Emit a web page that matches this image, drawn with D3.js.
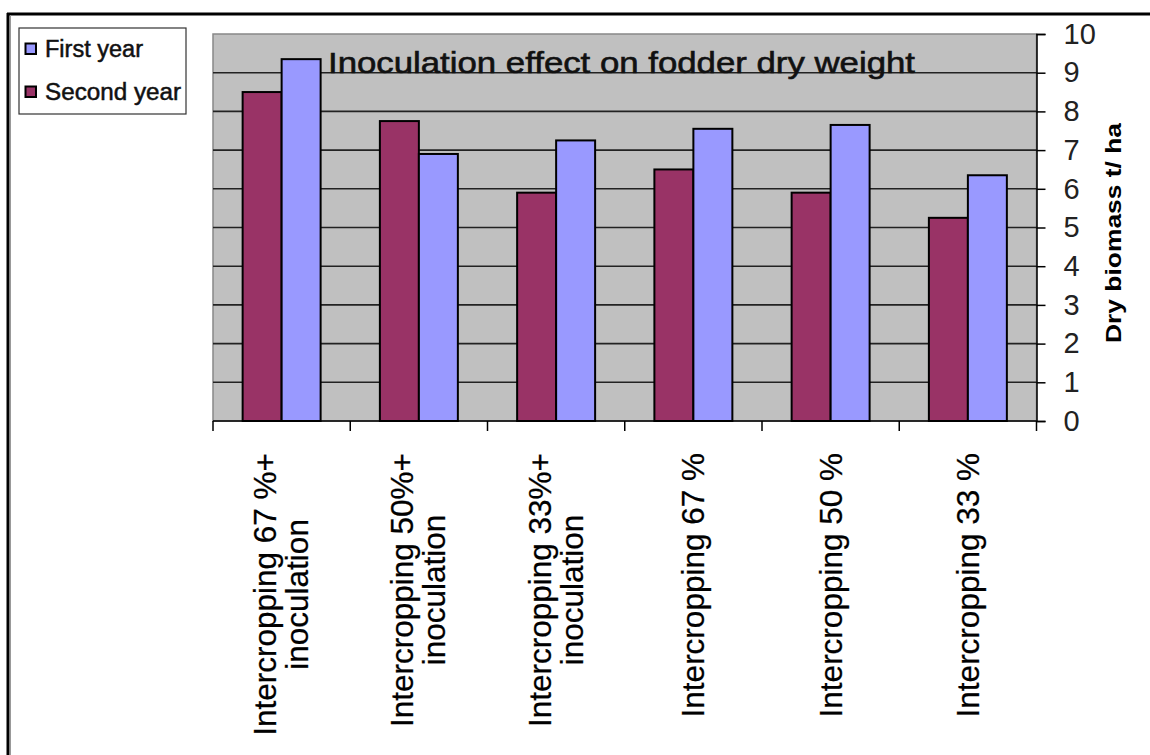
<!DOCTYPE html>
<html>
<head>
<meta charset="utf-8">
<script src="https://cdn.jsdelivr.net/npm/d3@7"></script>
<style>
  body { margin: 0; background: #fff; }
  svg { display: block; font-family: "Liberation Sans", Arial, sans-serif; }
</style>
</head>
<body>
<svg id="chart"></svg>
<script>
const categories = [
  ["Intercropping 67 %+", "inoculation"],
  ["Intercropping 50%+", "inoculation"],
  ["Intercropping 33%+", "inoculation"],
  ["Intercropping 67 %"],
  ["Intercropping 50 %"],
  ["Intercropping 33 %"],
];
const seriesNames = ["Second year", "First year"];
const secondYear = [8.5, 7.75, 5.9, 6.5, 5.9, 5.25];
const firstYear = [9.35, 6.9, 7.25, 7.55, 7.65, 6.35];
const yTicks = [0, 1, 2, 3, 4, 5, 6, 7, 8, 9, 10];

const width = 1150;
const height = 755;
const colors = { "First year": "#9999ff", "Second year": "#993366" };

const svg = d3.select("#chart").attr("width", width).attr("height", height);

// outer frame (top and left only, like the cropped original)
svg.append("line").attr("x1", 7).attr("x2", width).attr("y1", 14).attr("y2", 14)
  .attr("stroke", "#000").attr("stroke-width", 3);
svg.append("line").attr("x1", 8).attr("x2", 8).attr("y1", 13).attr("y2", height)
  .attr("stroke", "#000").attr("stroke-width", 3);
svg.append("line").attr("x1", 10.5).attr("x2", 10.5).attr("y1", 15).attr("y2", height)
  .attr("stroke", "#999").attr("stroke-width", 1);

const plot = { left: 213, right: 1036.5, top: 34, bottom: 421 };

const x0 = d3.scaleBand()
  .domain(d3.range(categories.length))
  .range([plot.left, plot.right]);
const x1 = d3.scaleBand()
  .domain(seriesNames)
  .range([0, x0.bandwidth()])
  .paddingOuter(0.76);
const y = d3.scaleLinear().domain([0, 10]).range([plot.bottom, plot.top]);

// plot background
svg.append("rect")
  .attr("x", plot.left).attr("y", plot.top)
  .attr("width", plot.right - plot.left).attr("height", plot.bottom - plot.top)
  .attr("fill", "#c0c0c0")
  .attr("stroke", "#888").attr("stroke-width", 1.5);

// gridlines
svg.append("g")
  .selectAll("line")
  .data(yTicks.filter((t) => t > 0 && t < 10))
  .join("line")
  .attr("x1", plot.left).attr("x2", plot.right)
  .attr("y1", (d) => y(d)).attr("y2", (d) => y(d))
  .attr("stroke", "#222").attr("stroke-width", 1.6);

// bars
const rows = categories.map((c, i) => ({
  i,
  values: [
    { key: "Second year", value: secondYear[i] },
    { key: "First year", value: firstYear[i] },
  ],
}));

svg.append("g")
  .selectAll("g")
  .data(rows)
  .join("g")
  .attr("transform", (d) => `translate(${x0(d.i)},0)`)
  .selectAll("rect")
  .data((d) => d.values)
  .join("rect")
  .attr("x", (d) => x1(d.key))
  .attr("y", (d) => y(d.value))
  .attr("width", x1.bandwidth())
  .attr("height", (d) => y(0) - y(d.value))
  .attr("fill", (d) => colors[d.key])
  .attr("stroke", "#000")
  .attr("stroke-width", 2);

// x axis line and ticks
const xAxis = svg.append("g");
xAxis.append("line")
  .attr("x1", plot.left).attr("x2", plot.right)
  .attr("y1", plot.bottom).attr("y2", plot.bottom)
  .attr("stroke", "#000").attr("stroke-width", 1.5);
xAxis.selectAll("line.tick")
  .data(d3.range(categories.length + 1))
  .join("line")
  .attr("class", "tick")
  .attr("x1", (d) => plot.left + d * x0.step())
  .attr("x2", (d) => plot.left + d * x0.step())
  .attr("y1", plot.bottom).attr("y2", plot.bottom + 10)
  .attr("stroke", "#000").attr("stroke-width", 1.5);

// x labels, rotated, block anchored at top near the axis
const labelTop = 453;
const labelFont = 31.5;
categories.forEach((lines, i) => {
  const cx = x0(i) + x0.bandwidth() / 2;
  const g = svg.append("g");
  const texts = lines.map((t) =>
    g.append("text")
      .attr("font-size", labelFont)
      .attr("fill", "#000")
      .attr("stroke", "#000")
      .attr("stroke-width", 0.25)
      .attr("text-anchor", "middle")
      .text(t)
  );
  const maxLen = d3.max(texts, (t) => t.node().getComputedTextLength());
  const cy = labelTop + maxLen / 2;
  const n = lines.length;
  texts.forEach((t, j) => {
    const bx = n === 1 ? cx + 11 : cx - 5.5 + j * 32;
    t.attr("transform", `translate(${bx},${cy}) rotate(-90)`);
  });
});

// y axis on the right
const yAxis = svg.append("g")
  .attr("transform", `translate(${plot.right},0)`)
  .call(d3.axisRight(y).tickValues(yTicks).tickSize(9).tickPadding(18));
yAxis.select(".domain").attr("stroke", "#000").attr("stroke-width", 1.5);
yAxis.selectAll(".tick line").attr("stroke", "#000").attr("stroke-width", 1.5);
yAxis.selectAll(".tick text")
  .attr("font-size", 29)
  .attr("font-family", "Liberation Sans, Arial, sans-serif")
  .attr("fill", "#222");

// y axis title
svg.append("text")
  .attr("transform", "translate(1121,233) rotate(-90)")
  .attr("text-anchor", "middle")
  .attr("font-size", 22)
  .attr("font-weight", "bold")
  .attr("textLength", 220)
  .attr("lengthAdjust", "spacingAndGlyphs")
  .text("Dry biomass t/ ha");

// title
svg.append("text")
  .attr("x", 328)
  .attr("y", 73)
  .attr("font-size", 30)
  .attr("fill", "#111")
  .attr("stroke", "#111")
  .attr("stroke-width", 0.6)
  .attr("textLength", 587)
  .attr("lengthAdjust", "spacingAndGlyphs")
  .text("Inoculation effect on fodder dry weight");

// legend
const legend = svg.append("g");
legend.append("rect")
  .attr("x", 19).attr("y", 28).attr("width", 167).attr("height", 86)
  .attr("fill", "#fff").attr("stroke", "#333").attr("stroke-width", 1.2);
const legendItems = ["First year", "Second year"];
const legendLens = [98, 136];
legend.selectAll("g")
  .data(legendItems)
  .join("g")
  .attr("transform", (d, i) => `translate(0,${i * 43})`)
  .each(function (d, i) {
    const g = d3.select(this);
    g.append("rect")
      .attr("x", 25.5).attr("y", 43.5).attr("width", 10.5).attr("height", 10.5)
      .attr("fill", colors[d]).attr("stroke", "#000").attr("stroke-width", 2);
    g.append("text")
      .attr("x", 45).attr("y", 56.5)
      .attr("font-size", 23)
      .attr("fill", "#111")
      .attr("stroke", "#111")
      .attr("stroke-width", 0.5)
      .attr("textLength", legendLens[i])
      .attr("lengthAdjust", "spacingAndGlyphs")
      .text(d);
  });
</script>
</body>
</html>
